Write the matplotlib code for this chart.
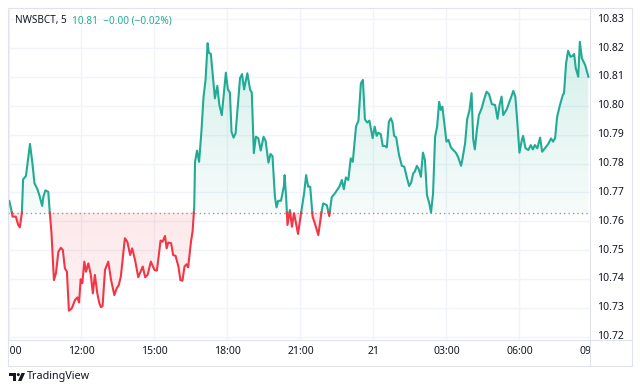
import numpy as np
import matplotlib
matplotlib.use("Agg")
import matplotlib.pyplot as plt
from matplotlib.path import Path
from matplotlib.colors import to_rgb
from matplotlib.transforms import Bbox, TransformedBbox, blended_transform_factory
from matplotlib.patches import Rectangle, Polygon, Circle

plt.rcParams['font.family'] = ['Noto Sans', 'DejaVu Sans']

# ---------------- data ----------------
# minutes after 09:00 (day 20), 5-minute bars
minutes = [2, 8, 10, 18, 24, 28, 33, 36, 43, 53, 59, 64, 71, 76, 83, 86, 91, 98, 102, 106,
           112, 117, 123, 129, 134, 139, 144, 149, 156, 164, 170, 174, 178, 182, 187, 191, 197, 203, 208, 213,
           219, 224, 228, 232, 238, 246, 253, 261, 267, 272, 277, 287, 293, 300, 305, 312, 320, 331, 337, 343,
           351, 360, 366, 375, 380, 386, 390, 394, 401, 406, 412, 419, 424, 429, 434, 439, 443, 450, 454, 458,
           460, 465, 470, 476, 481, 486, 491, 494, 499, 509, 515, 520, 526, 536, 541, 546, 550, 555, 560, 571,
           576, 581, 589, 596, 600, 605, 610, 616, 622, 629, 634, 641, 646, 651, 657, 661, 665, 672, 679, 681,
           685, 688, 694, 699, 704, 709, 714, 722, 729, 734, 739, 744, 750, 758, 764, 772, 776, 785, 791, 797,
           805, 816, 822, 827, 832, 838, 844, 849, 857, 863, 869, 874, 879, 885, 890, 898, 903, 908, 912, 918,
           923, 928, 933, 938, 943, 947, 951, 956, 963, 970, 976, 982, 988, 993, 998, 1002, 1007, 1012, 1017, 1022,
           1027, 1032, 1038, 1042, 1047, 1052, 1057, 1062, 1066, 1070, 1075, 1080, 1085, 1091, 1097, 1103, 1109, 1116, 1119, 1126,
           1131, 1137, 1142, 1146, 1150, 1155, 1160, 1167, 1173, 1179, 1185, 1192, 1200, 1206, 1211, 1216, 1220, 1229, 1237, 1245,
           1250, 1255, 1260, 1266, 1269, 1275, 1282, 1288, 1293, 1298, 1304, 1311, 1316, 1323, 1331, 1338, 1343, 1348, 1353, 1360,
           1367, 1370, 1375, 1380, 1386, 1391, 1395, 1399, 1405, 1409, 1414, 1422, 1430]
prices = [10.7670, 10.7633, 10.7616, 10.7616, 10.7587, 10.7579, 10.7628, 10.7745, 10.7757, 10.7868,
          10.7801, 10.7732, 10.7712, 10.7691, 10.7653, 10.7685, 10.7707, 10.7702, 10.7628, 10.7558,
          10.7396, 10.7420, 10.7494, 10.7508, 10.7500, 10.7437, 10.7425, 10.7290, 10.7298, 10.7327,
          10.7336, 10.7318, 10.7399, 10.7385, 10.7460, 10.7425, 10.7454, 10.7414, 10.7350, 10.7414,
          10.7350, 10.7316, 10.7302, 10.7306, 10.7431, 10.7460, 10.7396, 10.7344, 10.7368, 10.7379,
          10.7408, 10.7541, 10.7529, 10.7483, 10.7506, 10.7466, 10.7406, 10.7443, 10.7406, 10.7414,
          10.7460, 10.7431, 10.7429, 10.7533, 10.7529, 10.7549, 10.7506, 10.7526, 10.7524, 10.7483,
          10.7480, 10.7443, 10.7396, 10.7394, 10.7443, 10.7451, 10.7440, 10.7529, 10.7565, 10.7650,
          10.7806, 10.7845, 10.7806, 10.7916, 10.8032, 10.8090, 10.8217, 10.8184, 10.8180, 10.8026,
          10.8069, 10.8003, 10.7968, 10.8115, 10.8057, 10.8046, 10.7910, 10.7890, 10.7905, 10.8096,
          10.8110, 10.8057, 10.8113, 10.8055, 10.8046, 10.7836, 10.7893, 10.7888, 10.7845, 10.7893,
          10.7879, 10.7803, 10.7833, 10.7826, 10.7685, 10.7648, 10.7671, 10.7671, 10.7720, 10.7760,
          10.7674, 10.7587, 10.7639, 10.7581, 10.7628, 10.7593, 10.7556, 10.7633, 10.7697, 10.7760,
          10.7720, 10.7720, 10.7616, 10.7581, 10.7552, 10.7633, 10.7662, 10.7656, 10.7618, 10.7683,
          10.7697, 10.7720, 10.7743, 10.7711, 10.7752, 10.7743, 10.7818, 10.7806, 10.7928, 10.7949,
          10.8078, 10.8090, 10.7953, 10.7942, 10.7949, 10.7888, 10.7928, 10.7896, 10.7907, 10.7902,
          10.7861, 10.7861, 10.7856, 10.7945, 10.7957, 10.7942, 10.7896, 10.7891, 10.7830, 10.7792,
          10.7789, 10.7754, 10.7722, 10.7734, 10.7766, 10.7772, 10.7792, 10.7780, 10.7754, 10.7838,
          10.7812, 10.7691, 10.7660, 10.7630, 10.7697, 10.7893, 10.7928, 10.8014, 10.7986, 10.7997,
          10.7937, 10.7876, 10.7882, 10.7856, 10.7847, 10.7838, 10.7822, 10.7792, 10.7812, 10.7870,
          10.7953, 10.7986, 10.8044, 10.7884, 10.7849, 10.7916, 10.7968, 10.7992, 10.8023, 10.8049,
          10.8041, 10.8006, 10.8003, 10.7955, 10.8003, 10.8032, 10.7968, 10.7989, 10.8020, 10.8052,
          10.8031, 10.7940, 10.7838, 10.7882, 10.7896, 10.7853, 10.7847, 10.7864, 10.7849, 10.7864,
          10.7853, 10.7890, 10.7841, 10.7853, 10.7868, 10.7887, 10.7876, 10.7888, 10.7962, 10.8003,
          10.8038, 10.8044, 10.8147, 10.8191, 10.8170, 10.8173, 10.8180, 10.8130, 10.8101, 10.8222,
          10.8165, 10.8142, 10.8101]
baseline = 10.763
price_ticks = [10.72, 10.73, 10.74, 10.75, 10.76, 10.77, 10.78, 10.79, 10.80, 10.81, 10.82, 10.83]
time_ticks = [0, 180, 360, 540, 720, 900, 1080, 1260, 1440]
time_labels = ["09:00", "12:00", "15:00", "18:00", "21:00", "21", "03:00", "06:00", "09:00"]
symbol = "NWSBCT, 5"
quote = "10.81  \u22120.00 (\u22120.02%)"

# ---------------- styling ----------------
W, H = 640, 391
GREEN = "#22ab94"
RED = "#f23645"
GRID = "#f0f3fa"
BORDER = "#e0e3eb"
TXT = "#131722"

fig = plt.figure(figsize=(W / 100, H / 100), dpi=100)
fig.patch.set_facecolor("white")


def fx(px):
    return px / W


def fy(py):
    return 1 - py / H


L, R, T, B = 8, 590, 8, 340
ax = fig.add_axes([fx(L), fy(B), fx(R) - fx(L), fy(T) - fy(B)])
ax.axis("off")


# x scale: 09:00 at px 8.5, 24.33 px per hour
def m_of_px(px):
    return (px - 8.5) * 60 / 24.33


xlim = (m_of_px(L), m_of_px(R))
ylim = (10.83 - (B - 19.3) / 2885.0, 10.83 + (19.3 - T) / 2885.0)

# grid
for v in price_ticks:
    ax.axhline(v, color=GRID, lw=1, zorder=0)
for m in time_ticks:
    ax.axvline(m, color=GRID, lw=1, zorder=0)

# insert baseline crossings
t = np.array(minutes, float)
p = np.array(prices, float)
tt, pp = [t[0]], [p[0]]
for i in range(1, len(t)):
    a, b = p[i - 1] - baseline, p[i] - baseline
    if a * b < 0:
        tt.append(t[i - 1] + (t[i] - t[i - 1]) * a / (a - b))
        pp.append(baseline)
    tt.append(t[i])
    pp.append(p[i])
tt = np.array(tt)
pp = np.array(pp)


def grad_fill(where, color, a_top, a_bot, y0, y1):
    coll = ax.fill_between(tt, pp, baseline, where=where, interpolate=True,
                           facecolor="none", edgecolor="none", lw=0)
    path = Path.make_compound_path(*coll.get_paths())
    n = 256
    img = np.zeros((n, 1, 4))
    img[..., :3] = to_rgb(color)
    img[:, 0, 3] = np.linspace(a_top, a_bot, n)
    im = ax.imshow(img, extent=[xlim[0], xlim[1], y0, y1], origin="upper",
                   aspect="auto", interpolation="bilinear", zorder=1)
    im.set_clip_path(path, transform=ax.transData)


grad_fill(pp >= baseline, GREEN, 0.22, 0.04, baseline, ylim[1])
grad_fill(pp <= baseline, RED, 0.11, 0.05, ylim[0], baseline)

ax.axhline(baseline, color="#9598a1", lw=1, ls=(0, (1, 2.2)), zorder=2)

up = np.ma.masked_where(pp < baseline, pp)
dn = np.ma.masked_where(pp > baseline, pp)
ax.plot(tt, up, color=GREEN, lw=1.5, solid_joinstyle="round", zorder=3)
ax.plot(tt, dn, color=RED, lw=1.5, solid_joinstyle="round", zorder=3)

ax.set_xlim(*xlim)
ax.set_ylim(*ylim)

# price axis labels
ptrans = blended_transform_factory(ax.transAxes, ax.transData)
pclip = TransformedBbox(Bbox([[fx(591), fy(B)], [fx(632), fy(T)]]), fig.transFigure)
for v in price_ticks:
    tx = ax.text((597 - L) / (R - L), v, f"{v:.2f}", transform=ptrans, ha="left",
                 va="center", fontsize=7.5, color=TXT)
    tx.set_clip_box(pclip)
    tx.set_clip_on(True)

# time axis labels (clipped at the panel edges like the original)
ttrans = blended_transform_factory(ax.transData, ax.transAxes)
tclip = TransformedBbox(Bbox([[fx(10), fy(366)], [fx(590), fy(B)]]), fig.transFigure)
label_y = -(352 - B) / (B - T)
for m, lab in zip(time_ticks, time_labels):
    tx = ax.text(m, label_y, lab, transform=ttrans, ha="center", va="center",
                 fontsize=7.5, color=TXT, fontweight="bold" if lab == "21" else "normal")
    tx.set_clip_box(tclip)
    tx.set_clip_on(True)

# overlay for frame, header, logo
ov = fig.add_axes([0, 0, 1, 1], zorder=5)
ov.set_xlim(0, W)
ov.set_ylim(H, 0)
ov.axis("off")
ov.patch.set_alpha(0)
ov.add_patch(Rectangle((8, 8), 624, 358, fill=False, edgecolor=BORDER, lw=0.8))
ov.plot([R, R], [8, 366], color=BORDER, lw=0.8)
ov.plot([8, 632], [B, B], color=BORDER, lw=0.8)

sym = ov.text(15, 21, symbol, fontsize=7.2, color=TXT, va="center", ha="left")
ov.annotate(quote, xy=(1, 0.5), xycoords=sym, xytext=(4, 0), textcoords="offset points",
            fontsize=7.2, color=GREEN, va="center", ha="left")

# TradingView logo
ov.add_patch(Polygon([(9, 373), (16, 373), (16, 381), (13, 381), (13, 376), (9, 376)],
                     closed=True, color=TXT, lw=0))
ov.add_patch(Circle((18.3, 374.6), 1.5, color=TXT, lw=0))
ov.add_patch(Polygon([(21.5, 373), (25, 373), (21.5, 381), (18, 381)], closed=True, color=TXT, lw=0))
ov.text(27, 377, "TradingView", fontsize=7.8, color=TXT, va="center", ha="left")

fig.savefig("out.png", dpi=100, facecolor="white")
